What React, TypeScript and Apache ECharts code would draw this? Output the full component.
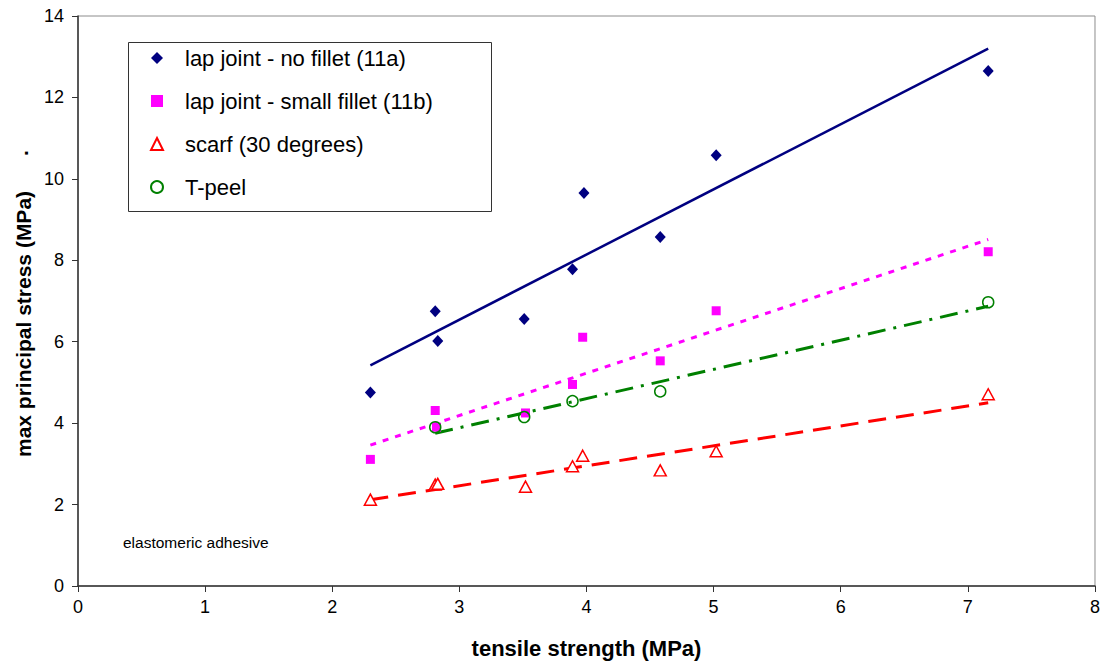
import React, { useEffect, useRef } from "react";
import * as echarts from "echarts";

// Scatter data: [tensile strength, max principal stress]
const lapNoFillet: number[][] = [
  [2.3, 4.75], [2.81, 6.75], [2.83, 6.02], [3.51, 6.56], [3.89, 7.78],
  [3.98, 9.65], [4.58, 8.57], [5.02, 10.58], [7.16, 12.65],
];
const lapSmallFillet: number[][] = [
  [2.3, 3.11], [2.81, 4.31], [2.82, 3.9], [3.52, 4.25], [3.89, 4.95],
  [3.97, 6.11], [4.58, 5.53], [5.02, 6.76], [7.16, 8.21],
];
const scarf: number[][] = [
  [2.3, 2.12], [2.81, 2.49], [2.83, 2.51], [3.52, 2.44], [3.89, 2.94],
  [3.97, 3.2], [4.58, 2.84], [5.02, 3.31], [7.16, 4.71],
];
const tPeel: number[][] = [
  [2.81, 3.9], [3.51, 4.15], [3.89, 4.54], [4.58, 4.78], [7.16, 6.97],
];

// Trend line end points
const trendNoFillet: number[][] = [[2.3, 5.42], [7.16, 13.2]];
const trendSmallFillet: number[][] = [[2.3, 3.46], [7.16, 8.51]];
const trendScarf: number[][] = [[2.3, 2.12], [7.16, 4.5]];
const trendTPeel: number[][] = [[2.81, 3.75], [7.16, 6.87]];

const seriesNames = [
  "lap joint - no fillet (11a)",
  "lap joint - small fillet (11b)",
  "scarf (30 degrees)",
  "T-peel",
];

const FONT = "Arial, 'Liberation Sans', sans-serif";

export default function App() {
  const ref = useRef<HTMLDivElement>(null);

  useEffect(() => {
    if (!ref.current) return;
    const chart = echarts.init(ref.current, undefined, { renderer: "svg" });
    const trendLine = (data: number[][], color: string, type: any, width: number) => ({
      type: "line",
      data,
      symbol: "none",
      silent: true,
      z: 1,
      lineStyle: { color, type, width, cap: "butt" },
    });
    chart.setOption({
      animation: false,
      backgroundColor: "#ffffff",
      textStyle: { fontFamily: FONT },
      grid: { left: 78, right: 6, top: 16, bottom: 72, show: true, borderColor: "#8c8c8c", borderWidth: 1 },
      xAxis: {
        type: "value",
        min: 0,
        max: 8,
        interval: 1,
        splitLine: { show: false },
        axisLine: { lineStyle: { color: "#333333", width: 1.5 } },
        axisTick: { show: true, length: 6, lineStyle: { color: "#333333" } },
        axisLabel: { color: "#000", fontSize: 18, margin: 12, fontFamily: FONT },
        name: "tensile strength (MPa)",
        nameLocation: "middle",
        nameGap: 51,
        nameTextStyle: { color: "#000", fontSize: 22, fontWeight: "bold", fontFamily: FONT },
      },
      yAxis: {
        type: "value",
        min: 0,
        max: 14,
        interval: 2,
        splitLine: { show: false },
        axisLine: { show: true, lineStyle: { color: "#333333", width: 1.5 } },
        axisTick: { show: true, length: 6, lineStyle: { color: "#333333" } },
        axisLabel: { color: "#000", fontSize: 18, margin: 14, fontFamily: FONT },
      },
      legend: {
        orient: "vertical",
        left: 150,
        top: 46,
        padding: 0,
        itemWidth: 12,
        itemHeight: 12,
        itemGap: 19,
        data: seriesNames,
        textStyle: { color: "#000", fontSize: 22, lineHeight: 24, padding: [0, 0, 0, 17], fontFamily: FONT },
      },
      graphic: [
        {
          type: "rect",
          z: 0,
          silent: true,
          shape: { x: 128.5, y: 42.5, width: 363, height: 169 },
          style: { fill: "#ffffff", stroke: "#333333", lineWidth: 1 },
        },
        {
          type: "text",
          x: 23,
          y: 324,
          rotation: Math.PI / 2,
          style: {
            text: "max principal stress (MPa)",
            fill: "#000",
            font: "bold 21px " + FONT,
            align: "center",
            verticalAlign: "middle",
          },
        },
        {
          type: "text",
          x: 20,
          y: 153,
          rotation: Math.PI / 2,
          style: {
            text: ".",
            fill: "#000",
            font: "bold 21px " + FONT,
            align: "center",
            verticalAlign: "middle",
          },
        },
        {
          type: "text",
          x: 123,
          y: 542,
          style: {
            text: "elastomeric adhesive",
            fill: "#000",
            font: "15.5px " + FONT,
            align: "left",
            verticalAlign: "middle",
          },
        },
      ],
      series: [
        trendLine(trendNoFillet, "#000080", "solid", 2.5),
        trendLine(trendSmallFillet, "#ff00ff", [6, 7], 3),
        trendLine(trendScarf, "#ff0000", [18, 10], 3),
        trendLine(trendTPeel, "#008000", [18, 8, 3, 8], 3),
        {
          name: seriesNames[0],
          type: "scatter",
          data: lapNoFillet,
          symbol: "diamond",
          symbolSize: [11, 12],
          z: 3,
          itemStyle: { color: "#000080", opacity: 1 },
        },
        {
          name: seriesNames[1],
          type: "scatter",
          data: lapSmallFillet,
          symbol: "rect",
          symbolSize: 9,
          z: 3,
          itemStyle: { color: "#ff00ff", opacity: 1 },
        },
        {
          name: seriesNames[2],
          type: "scatter",
          data: scarf,
          symbol: "triangle",
          symbolSize: [12, 11],
          z: 3,
          itemStyle: { color: "#ffffff", borderColor: "#ff0000", borderWidth: 1.5, opacity: 1 },
        },
        {
          name: seriesNames[3],
          type: "scatter",
          data: tPeel,
          symbol: "circle",
          symbolSize: 11,
          z: 3,
          itemStyle: { color: "rgba(255,255,255,0)", borderColor: "#008000", borderWidth: 1.5, opacity: 1 },
        },
      ],
    });
    return () => chart.dispose();
  }, []);

  return (
    <div
      ref={ref}
      style={{ position: "fixed", left: 0, top: 0, width: 1103, height: 664, background: "#fff" }}
    />
  );
}
